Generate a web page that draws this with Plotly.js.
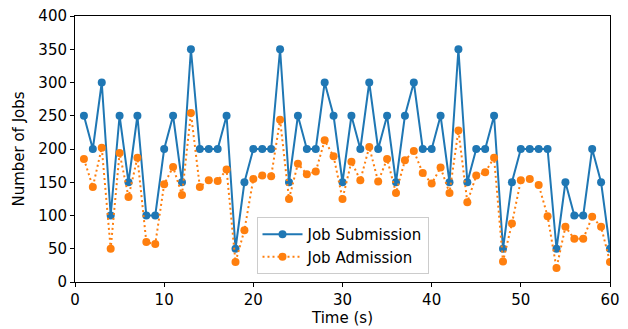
<!DOCTYPE html>
<html>
<head>
<meta charset="utf-8">
<script src="https://cdn.plot.ly/plotly-3.0.1.min.js"></script>
<style>html,body{margin:0;padding:0;background:#fff;}#chart{width:628px;height:329px;}</style>
</head>
<body>
<div id="chart"></div>
<script>
const time = [1,2,3,4,5,6,7,8,9,10,11,12,13,14,15,16,17,18,19,20,21,22,23,24,25,26,27,28,29,30,31,32,33,34,35,36,37,38,39,40,41,42,43,44,45,46,47,48,49,50,51,52,53,54,55,56,57,58,59,60];
const jobSubmission = [250,200,300,100,250,150,250,100,100,200,250,150,350,200,200,200,250,50,150,200,
  200,200,350,150,250,200,200,300,250,150,250,200,300,200,250,150,250,300,200,200,
  250,150,350,150,200,200,250,50,150,200,200,200,200,50,150,100,100,200,150,50];
const jobAdmission = [185,143,202,50,194,128,187,60,57,147,173,131,254,143,153,152,169,30,78,155,
  160,159,244,125,178,162,166,213,189,125,181,153,203,151,185,134,183,197,164,148,
  172,134,228,120,160,165,187,31,88,153,155,146,99,21,83,65,65,98,83,30];
const xTicks = [0,10,20,30,40,50,60];
const yTicks = [0,50,100,150,200,250,300,350,400];

const font = {family: 'DejaVu Sans, sans-serif', size: 15, color: '#000'};
const traces = [
  {x: time, y: jobSubmission, type: 'scatter', mode: 'lines+markers', name: 'Job Submission',
   line: {color: '#1f77b4', width: 2}, marker: {color: '#1f77b4', size: 8}},
  {x: time, y: jobAdmission, type: 'scatter', mode: 'lines+markers', name: 'Job Admission',
   line: {color: '#ff7f0e', width: 2, dash: '2px,3px'}, marker: {color: '#ff7f0e', size: 8}}
];
const layout = {
  width: 628, height: 329,
  margin: {l: 75, r: 18, t: 16, b: 47},
  paper_bgcolor: '#fff', plot_bgcolor: '#fff',
  font: font,
  showlegend: true,
  legend: {x: 0.5, y: 0.03, xanchor: 'center', yanchor: 'bottom',
           bordercolor: '#cccccc', borderwidth: 1, bgcolor: 'rgba(255,255,255,0.8)',
           font: {family: 'DejaVu Sans, sans-serif', size: 15, color: '#000'},
           tracegroupgap: 0, itemwidth: 40},
  xaxis: {range: [0, 60], tickvals: xTicks, ticks: 'outside', ticklen: 4, tickwidth: 1,
          tickcolor: '#000', showgrid: false, zeroline: false, showline: true, linecolor: '#000',
          linewidth: 1, mirror: true, title: {text: 'Time (s)', font: font, standoff: 3}},
  yaxis: {range: [0, 400], tickvals: yTicks, ticks: 'outside', ticklen: 4, tickwidth: 1,
          tickcolor: '#000', showgrid: false, zeroline: false, showline: true, linecolor: '#000',
          linewidth: 1, mirror: true, title: {text: 'Number of Jobs', font: font, standoff: 10}}
};
Plotly.newPlot('chart', traces, layout, {displayModeBar: false, staticPlot: true});
</script>
</body>
</html>
